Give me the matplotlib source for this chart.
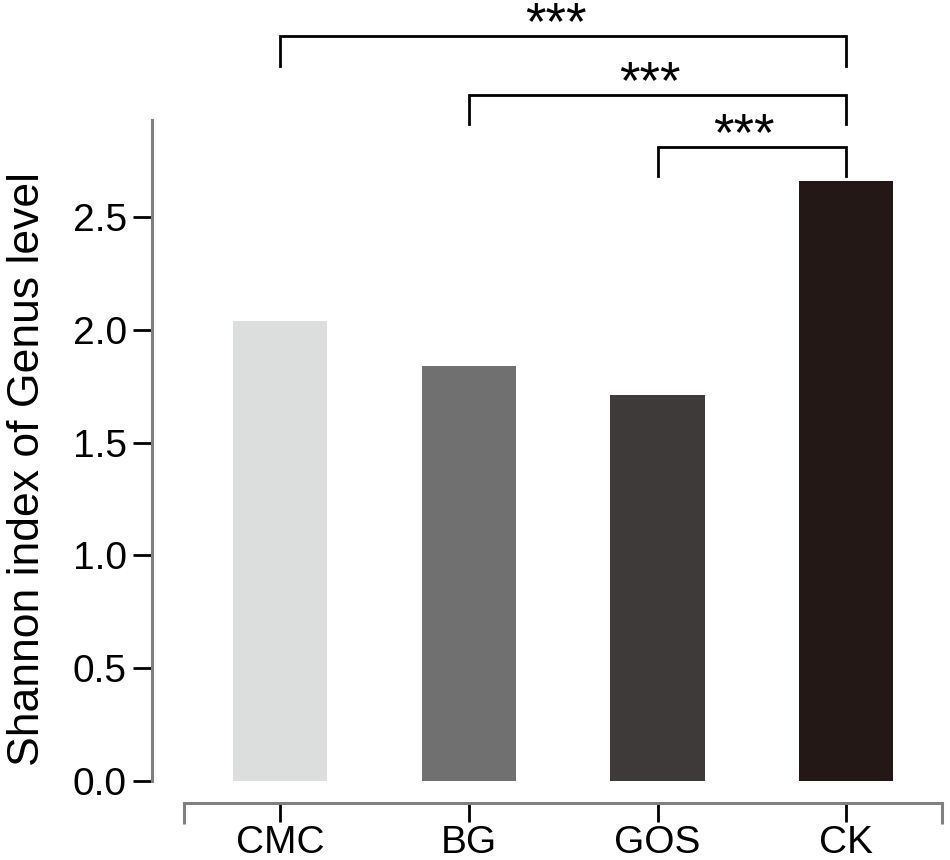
import matplotlib.pyplot as plt
from matplotlib.ticker import FixedLocator

plt.rcParams['font.family'] = ['Liberation Sans', 'DejaVu Sans']

# данные
groups = ['CMC', 'BG', 'GOS', 'CK']
shannon = [2.04, 1.84, 1.71, 2.66]
bar_colors = ['#dcdddd', '#707070', '#3e3a39', '#231815']

# пары для значимости: (слева, справа, высота линии, метка)
sig_pairs = [(0, 3, 3.30, '***'), (1, 3, 3.04, '***'), (2, 3, 2.81, '***')]
sig_drop = 0.13

fig = plt.figure(figsize=(9.5, 8.6), dpi=100)
ax = fig.add_axes([0.16, 0.0919, 0.84, 0.7686])

x = list(range(len(groups)))
ax.bar(x, shannon, width=0.5, color=bar_colors)

ax.set_xlim(-0.68, 3.55)
ax.set_ylim(0, 2.93)

# оси
gray = '#808080'
for s in ['top', 'right']:
    ax.spines[s].set_visible(False)
ax.spines['left'].set_color(gray)
ax.spines['left'].set_linewidth(2.2)
ax.spines['left'].set_bounds(0, 2.93)
ax.spines['bottom'].set_color(gray)
ax.spines['bottom'].set_linewidth(2.2)
ax.spines['bottom'].set_position(('outward', 16))
ax.spines['bottom'].set_bounds(-0.51, 3.51)

ax.set_yticks([0.0, 0.5, 1.0, 1.5, 2.0, 2.5])
ax.set_yticklabels(['0.0', '0.5', '1.0', '1.5', '2.0', '2.5'])
ax.set_xticks(x)
ax.set_xticklabels(groups)
ax.tick_params(axis='y', length=14, width=2, color='black', labelsize=28, pad=4)
ax.tick_params(axis='x', length=14, width=2, color='black', labelsize=28, pad=2)

# загнутые концы нижней оси
ax.xaxis.set_minor_locator(FixedLocator([-0.51, 3.51]))
ax.tick_params(axis='x', which='minor', length=15, width=2.2, color=gray)

ax.set_ylabel('Shannon index of Genus level', fontsize=32, labelpad=18)
ax.yaxis.label.set_y(0.472)

# скобки значимости
for i, j, h, lab in sig_pairs:
    ax.plot([i, i, j, j], [h - sig_drop, h, h, h - sig_drop],
            color='black', lw=2, clip_on=False, solid_joinstyle='miter')
    ax.text((i + j) / 2 - 0.04, h - 0.012, lab, ha='center', va='baseline',
            fontsize=38, clip_on=False)

fig.savefig('out.png', dpi=100)
